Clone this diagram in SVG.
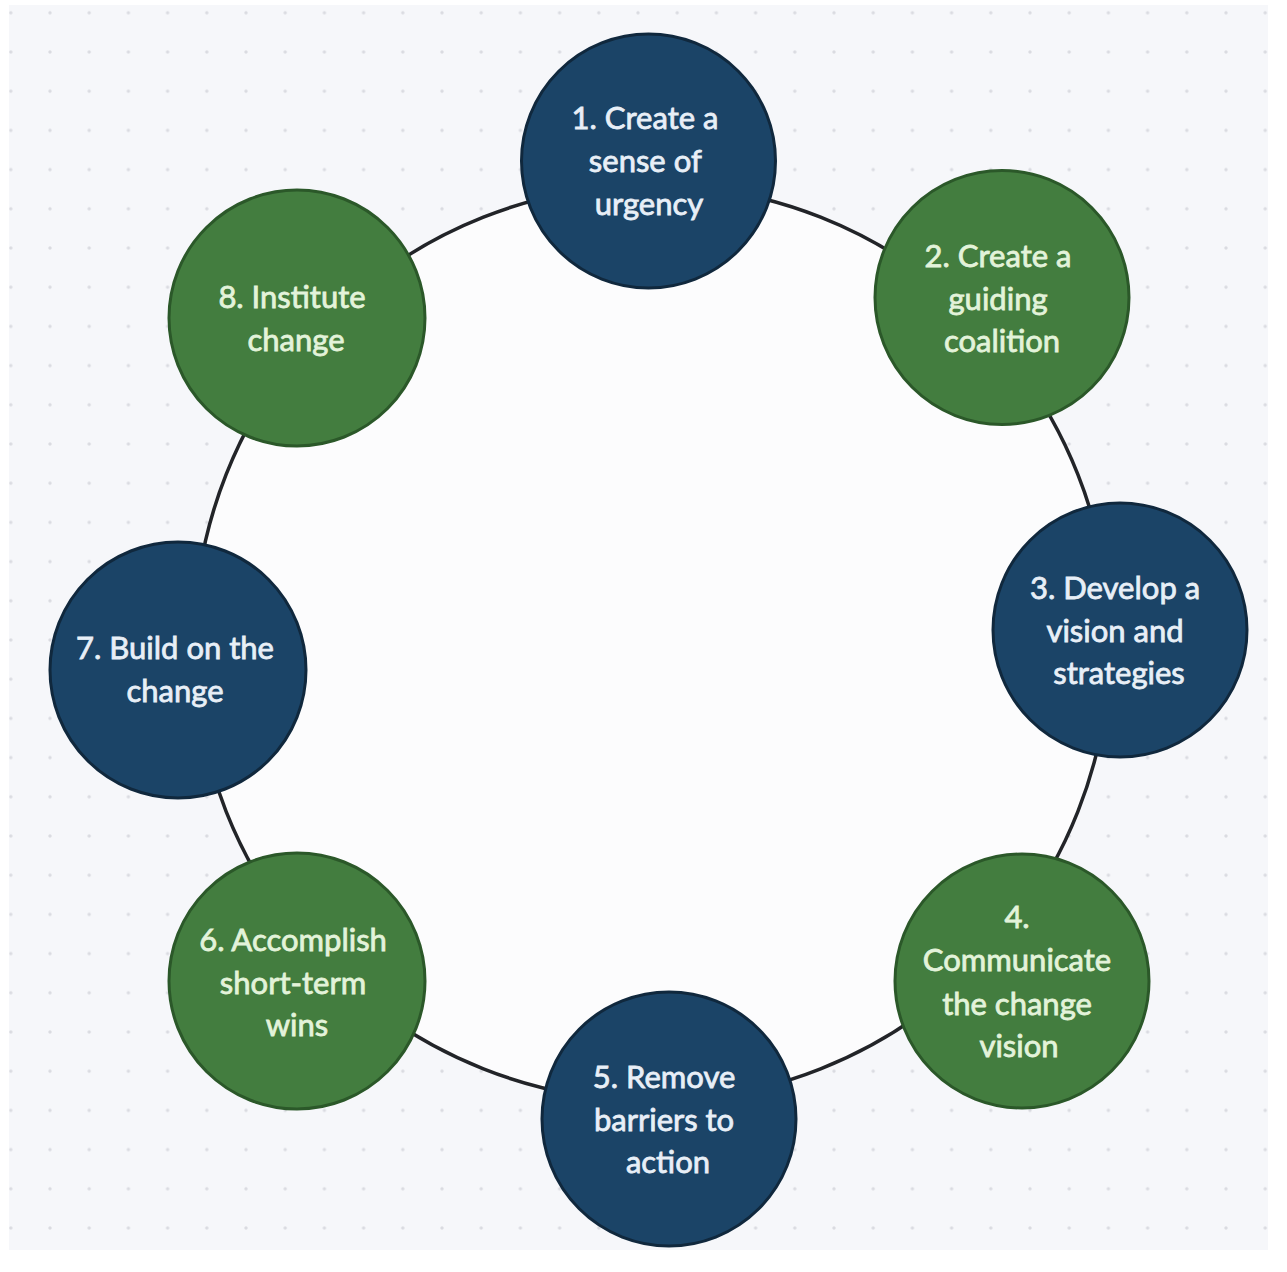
<svg xmlns="http://www.w3.org/2000/svg" width="1287" height="1272" viewBox="0 0 1287 1272">
  <defs>
    <pattern id="dots" patternUnits="userSpaceOnUse" x="-8.8" y="-6.8" width="39.2" height="39.2">
      <circle cx="19.6" cy="19.6" r="1.7" fill="#dadbe1"/>
    </pattern>
    <style>
      .node-blue { fill: #1b4467; stroke: #10283d; stroke-width: 3; }
      .node-green { fill: #437d3f; stroke: #2b5829; stroke-width: 3; }
      .ring { fill: #fcfcfd; stroke: #222428; stroke-width: 3.5; }
      .label { font-family: Lato, "Liberation Sans", sans-serif; font-size: 31px; text-anchor: middle; stroke-width: 0.8; }
      .label-blue { fill: #e8eff7; stroke: #e8eff7; }
      .label-green { fill: #e3f3da; stroke: #e3f3da; }
    </style>
  </defs>

  <!-- canvas -->
  <rect x="0" y="0" width="1287" height="1272" fill="#ffffff"/>
  <rect x="9" y="5" width="1259" height="1245" fill="#f6f7fa"/>
  <rect x="9" y="5" width="1259" height="1245" fill="url(#dots)"/>

  <!-- cycle connector -->
  <g id="connectors">
    <circle class="ring" cx="652" cy="643" r="458"/>
  </g>

  <g id="node-1">
    <circle class="node-blue" cx="648.5" cy="161" r="127"/>
    <text class="label label-blue">
      <tspan x="649" y="129">1. Create a</tspan>
      <tspan x="649" y="172">sense of</tspan>
      <tspan x="649" y="215">urgency</tspan>
    </text>
  </g>

  <g id="node-2">
    <circle class="node-green" cx="1002" cy="297.5" r="127"/>
    <text class="label label-green">
      <tspan x="1002" y="267">2. Create a</tspan>
      <tspan x="1002" y="310">guiding</tspan>
      <tspan x="1002" y="352">coalition</tspan>
    </text>
  </g>

  <g id="node-3">
    <circle class="node-blue" cx="1120" cy="630" r="127"/>
    <text class="label label-blue">
      <tspan x="1119" y="599">3. Develop a</tspan>
      <tspan x="1119" y="642">vision and</tspan>
      <tspan x="1119" y="684">strategies</tspan>
    </text>
  </g>

  <g id="node-4">
    <circle class="node-green" cx="1022" cy="981" r="127"/>
    <text class="label label-green">
      <tspan x="1021" y="928">4.</tspan>
      <tspan x="1021" y="971">Communicate</tspan>
      <tspan x="1021" y="1015">the change</tspan>
      <tspan x="1019" y="1057">vision</tspan>
    </text>
  </g>

  <g id="node-5">
    <circle class="node-blue" cx="669" cy="1119" r="127"/>
    <text class="label label-blue">
      <tspan x="668" y="1088">5. Remove</tspan>
      <tspan x="668" y="1131">barriers to</tspan>
      <tspan x="668" y="1173">action</tspan>
    </text>
  </g>

  <g id="node-6">
    <circle class="node-green" cx="297" cy="981" r="128"/>
    <text class="label label-green">
      <tspan x="297" y="951">6. Accomplish</tspan>
      <tspan x="297" y="994">short-term</tspan>
      <tspan x="297" y="1036">wins</tspan>
    </text>
  </g>

  <g id="node-7">
    <circle class="node-blue" cx="178" cy="670" r="128"/>
    <text class="label label-blue">
      <tspan x="179" y="659">7. Build on the</tspan>
      <tspan x="175" y="702">change</tspan>
    </text>
  </g>

  <g id="node-8">
    <circle class="node-green" cx="297" cy="318" r="128"/>
    <text class="label label-green">
      <tspan x="296" y="308">8. Institute</tspan>
      <tspan x="296" y="351">change</tspan>
    </text>
  </g>
</svg>
